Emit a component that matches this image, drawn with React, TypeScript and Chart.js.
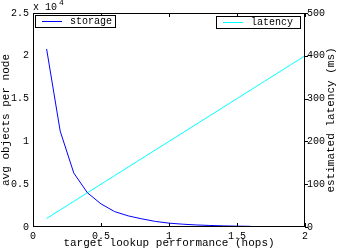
import { useEffect, useRef } from 'react';
import { Chart, registerables } from 'chart.js';

Chart.register(...registerables);

const hops = [0.1, 0.2, 0.3, 0.4, 0.5, 0.6, 0.7, 0.8, 0.9, 1.0, 1.1, 1.2, 1.3, 1.4, 1.5, 1.6, 1.7, 1.8, 1.9, 2.0];
const storage = [20800, 11200, 6300, 4000, 2700, 1800, 1300, 950, 650, 450, 330, 240, 180, 130, 100, 80];
const latency = [20, 40, 60, 80, 100, 120, 140, 160, 180, 200, 220, 240, 260, 280, 300, 320, 340, 360, 380, 400];
const xTicks = [0, 0.5, 1, 1.5, 2];

const FONT = '"Liberation Mono", "DejaVu Sans Mono", monospace';

const framePlugin = {
  id: 'matlabFrame',
  afterDraw(chart: any) {
    const ctx = chart.ctx;
    const a = chart.chartArea;
    const xs = chart.scales.x;
    const y1 = chart.scales.y1;
    ctx.save();
    ctx.strokeStyle = '#000';
    ctx.lineWidth = 1;
    ctx.strokeRect(Math.round(a.left) + 0.5, Math.round(a.top) + 0.5, Math.round(a.right - a.left) - 1, Math.round(a.bottom - a.top) - 1);
    ctx.beginPath();
    for (const t of xTicks) {
      const px = Math.round(xs.getPixelForValue(t)) + 0.5;
      ctx.moveTo(px, a.bottom);
      ctx.lineTo(px, a.bottom - 4);
      ctx.moveTo(px, a.top);
      ctx.lineTo(px, a.top + 4);
    }
    for (const t of y1.ticks) {
      const py = Math.round(y1.getPixelForValue(t.value)) + 0.5;
      ctx.moveTo(a.right, py);
      ctx.lineTo(a.right + 3, py);
    }
    ctx.stroke();

    // legends
    ctx.font = '10px ' + FONT;
    ctx.textBaseline = 'middle';
    ctx.textAlign = 'left';
    const drawLegend = (x0: number, x1: number, y0: number, y1b: number, color: string, label: string) => {
      ctx.fillStyle = '#fff';
      ctx.fillRect(x0, y0, x1 - x0, y1b - y0);
      ctx.strokeStyle = '#000';
      ctx.strokeRect(x0 + 0.5, y0 + 0.5, x1 - x0, y1b - y0);
      const cy = Math.round((y0 + y1b) / 2) + 0.5;
      ctx.strokeStyle = color;
      ctx.beginPath();
      ctx.moveTo(x0 + 7, cy);
      ctx.lineTo(x0 + 27, cy);
      ctx.stroke();
      ctx.fillStyle = '#000';
      ctx.fillText(label, x0 + 35, cy);
    };
    drawLegend(35, 115, 15, 27, '#0000ff', 'storage');
    drawLegend(216, 300, 16, 28, '#00ffff', 'latency');

    // exponent
    ctx.fillStyle = '#000';
    ctx.font = '10px ' + FONT;
    ctx.textBaseline = 'alphabetic';
    ctx.fillText('x 10', 33, 10);
    ctx.font = '8px ' + FONT;
    ctx.fillText('4', 59, 5);

    // axis titles
    ctx.font = '11px ' + FONT;
    ctx.textAlign = 'center';
    ctx.textBaseline = 'middle';
    ctx.fillText('target lookup performance (hops)', (a.left + a.right) / 2, 243);
    ctx.save();
    ctx.translate(6, (a.top + a.bottom) / 2);
    ctx.rotate(-Math.PI / 2);
    ctx.fillText('avg objects per node', 0, 0);
    ctx.restore();
    ctx.save();
    ctx.translate(331, (a.top + a.bottom) / 2);
    ctx.rotate(-Math.PI / 2);
    ctx.fillText('estimated latency (ms)', 0, 0);
    ctx.restore();
    ctx.restore();
  },
};

export default function App() {
  const ref = useRef<HTMLCanvasElement | null>(null);
  useEffect(() => {
    document.body.style.margin = '0';
    const canvas = ref.current;
    if (!canvas) return;
    const tickFont = { family: FONT, size: 10 };
    const chart = new Chart(canvas, {
      type: 'line',
      data: {
        datasets: [
          {
            label: 'storage',
            data: storage.map((v, i) => ({ x: hops[i], y: v })),
            borderColor: '#0000ff',
            borderWidth: 1,
            pointRadius: 0,
            tension: 0,
            yAxisID: 'y',
          },
          {
            label: 'latency',
            data: latency.map((v, i) => ({ x: hops[i], y: v })),
            borderColor: '#00ffff',
            borderWidth: 1,
            pointRadius: 0,
            tension: 0,
            yAxisID: 'y1',
          },
        ],
      },
      options: {
        animation: false,
        responsive: false,
        devicePixelRatio: 1,
        layout: { padding: { top: 13, left: 0, right: 0, bottom: 0 } },
        plugins: { legend: { display: false }, tooltip: { enabled: false } },
        scales: {
          x: {
            type: 'linear',
            min: 0,
            max: 2,
            grid: { display: false, drawTicks: false },
            border: { display: false },
            ticks: { stepSize: 0.5, padding: 3, font: tickFont, color: '#000', maxRotation: 0, callback: (v: any) => String(v) },
            afterFit: (s: any) => { s.height = 22; },
          },
          y: {
            type: 'linear',
            position: 'left',
            min: 0,
            max: 25000,
            grid: { display: false, drawTicks: false },
            border: { display: false },
            ticks: { stepSize: 5000, padding: 4, font: tickFont, color: '#000', callback: (v: any) => String(v / 10000) },
            afterFit: (s: any) => { s.width = 33; },
          },
          y1: {
            type: 'linear',
            position: 'right',
            min: 0,
            max: 500,
            grid: { display: false, drawTicks: false },
            border: { display: false },
            ticks: { stepSize: 100, padding: 2, font: tickFont, color: '#000' },
            afterFit: (s: any) => { s.width = 33; },
          },
        },
      },
      plugins: [framePlugin],
    } as any);
    return () => chart.destroy();
  }, []);
  return (
    <div style={{ width: 338, height: 249, background: '#fff' }}>
      <canvas ref={ref} width={338} height={249} />
    </div>
  );
}
